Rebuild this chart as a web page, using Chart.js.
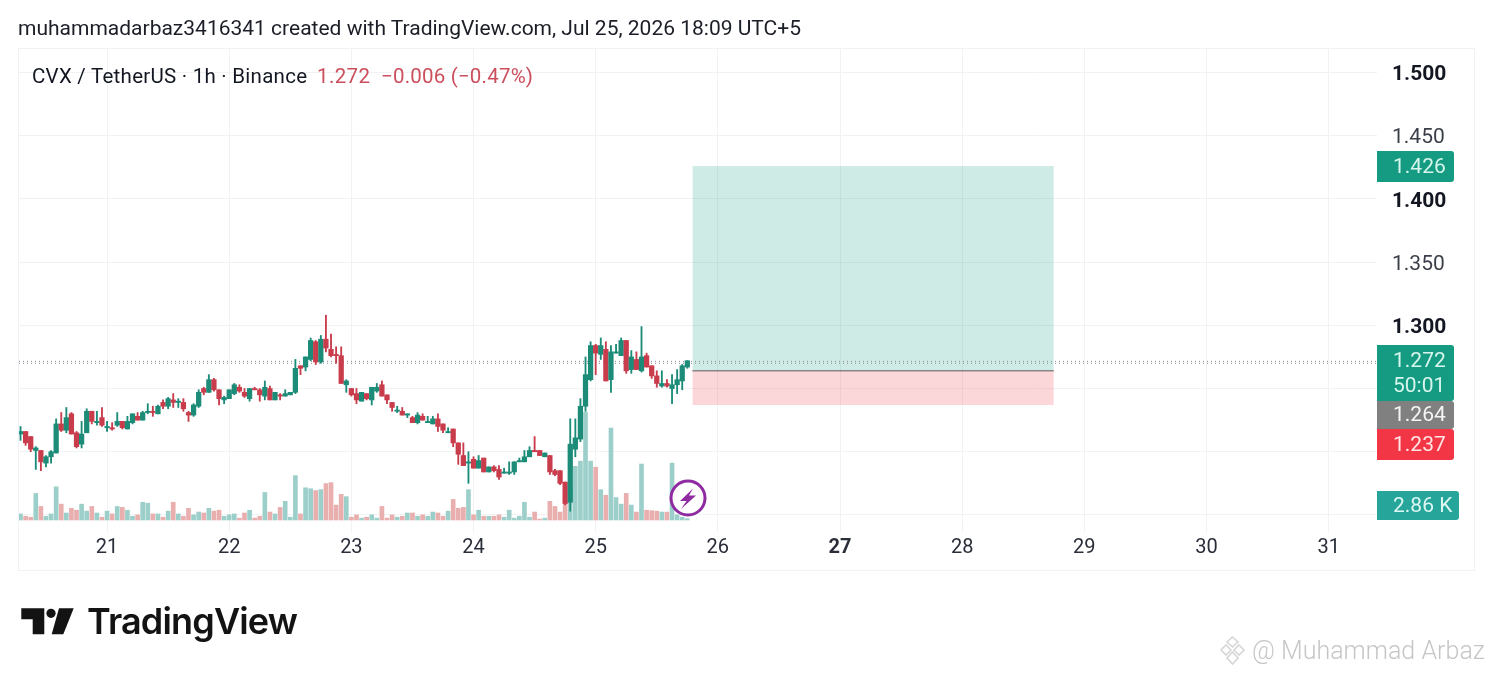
<!DOCTYPE html>
<html>
<head>
<meta charset="utf-8">
<title>CVX / TetherUS</title>
<script src="https://cdn.jsdelivr.net/npm/chart.js"></script>
<style>
  html, body { margin: 0; padding: 0; background: #fff; }
  #wrap { position: relative; width: 1492px; height: 675px; overflow: hidden; }
  #frame { position: absolute; left: 18px; top: 48px; width: 1455px; height: 521px; border: 1px solid #f0f2f5; }
  #chart, #overlay { position: absolute; left: 0; top: 0; }
</style>
</head>
<body>
<div id="wrap">
  <div id="frame"></div>
  <canvas id="chart" width="1492" height="675"></canvas>
  <svg id="overlay" width="1492" height="675" viewBox="0 0 1492 675" font-family="Roboto">
    <text x="18" y="35" font-size="21" fill="#1b1e26" textLength="783">muhammadarbaz3416341 created with TradingView.com, Jul 25, 2026 18:09 UTC+5</text>
    <text x="32" y="83" font-size="20.5" fill="#131722" textLength="275">CVX / TetherUS · 1h · Binance</text>
    <text x="317" y="83" font-size="20.5" fill="#cb4f5c" textLength="53">1.272</text>
    <text x="381" y="83" font-size="20.5" fill="#cb4f5c" textLength="152">−0.006 (−0.47%)</text>

    <circle cx="688" cy="498" r="17" fill="#fff" stroke="#8e2ba0" stroke-width="3"/>
    <polygon points="693,488.5 680,501 686.5,501 681,509 696,495.5 689,495.5" fill="#8e2ba0"/>

    <polygon points="21.3,608.3 44.3,608.3 44.3,634.3 32.7,634.3 32.7,619.3 21.3,619.3" fill="#131313"/>
    <circle cx="51" cy="613.3" r="4.6" fill="#131313"/>
    <polygon points="59,608.3 73.7,608.3 63.3,634.3 51.7,634.3" fill="#131313"/>
    <text x="87" y="634" font-family="Inter" font-size="36" font-weight="600" fill="#131313" textLength="211">TradingView</text>

    <g fill="none" stroke="#d6d6d6" stroke-width="1.6">
      <polygon points="1232.5,637 1238,642 1232.5,647 1227,642"/>
      <polygon points="1226,645 1231,650 1226,655 1221,650"/>
      <polygon points="1239,645 1244,650 1239,655 1234,650"/>
      <polygon points="1232.5,652 1238,658 1232.5,664 1227,658"/>
    </g>
    <text x="1252" y="659" font-size="25" font-weight="300" fill="#c6c6c6" textLength="233">@ Muhammad Arbaz</text>
  </svg>
</div>
<script>
// hours counted from Jul 21 00:00, one candle per hour
const firstHour = -17;

const opens = [
  1.214,1.216,1.212,1.201,1.201,1.191,1.196,1.199,1.222,1.217,1.230,1.215,1.206,1.215,1.232,1.223,1.227,
  1.219,1.219,1.221,1.224,1.218,1.223,1.228,1.225,1.231,1.232,1.230,1.239,1.236,1.241,1.239,1.239,1.231,1.229,1.236,1.250,1.247,1.257,1.249,1.241,
  1.242,1.246,1.251,1.247,1.242,1.250,1.249,1.244,1.250,1.241,1.245,1.244,1.245,1.247,1.268,1.267,1.273,1.287,1.271,1.289,1.281,1.277,1.276,1.253,
  1.250,1.246,1.240,1.246,1.241,1.248,1.253,1.245,1.239,1.232,1.232,1.229,1.227,1.223,1.228,1.223,1.222,1.226,1.222,1.215,1.218,1.207,1.197,1.191,
  1.194,1.187,1.195,1.184,1.188,1.186,1.183,1.183,1.184,1.192,1.192,1.196,1.201,1.201,1.196,1.197,1.185,1.185,1.176,1.160,1.202,1.210,1.236,1.257,
  1.284,1.277,1.281,1.257,1.278,1.276,1.288,1.265,1.273,1.264,1.276,1.268,1.260,1.252,1.254,1.250,1.253,1.256,1.267
];
const closes = [
  1.216,1.207,1.202,1.203,1.192,1.196,1.200,1.222,1.217,1.227,1.214,1.204,1.214,1.232,1.224,1.224,1.221,
  1.220,1.218,1.224,1.219,1.224,1.230,1.225,1.231,1.232,1.231,1.236,1.236,1.242,1.239,1.240,1.234,1.229,1.237,1.247,1.247,1.257,1.249,1.242,1.243,
  1.249,1.253,1.248,1.244,1.250,1.249,1.245,1.251,1.241,1.247,1.244,1.246,1.247,1.266,1.266,1.275,1.288,1.271,1.289,1.282,1.276,1.276,1.254,1.256,
  1.245,1.241,1.247,1.242,1.251,1.251,1.244,1.241,1.235,1.233,1.229,1.230,1.223,1.229,1.225,1.224,1.226,1.220,1.217,1.216,1.207,1.198,1.189,1.192,
  1.187,1.193,1.184,1.188,1.185,1.180,1.184,1.184,1.192,1.193,1.196,1.201,1.200,1.197,1.199,1.184,1.182,1.175,1.159,1.206,1.211,1.236,1.261,1.284,
  1.278,1.284,1.256,1.279,1.279,1.288,1.264,1.275,1.265,1.275,1.267,1.260,1.254,1.254,1.252,1.253,1.257,1.268,1.272
];
const highs = [
  1.220,1.216,1.212,1.204,1.201,1.197,1.201,1.226,1.231,1.235,1.231,1.216,1.224,1.234,1.232,1.232,1.235,
  1.224,1.223,1.231,1.224,1.228,1.230,1.231,1.232,1.238,1.236,1.237,1.241,1.243,1.246,1.242,1.242,1.232,1.238,1.249,1.251,1.261,1.258,1.249,1.244,
  1.249,1.254,1.253,1.250,1.250,1.251,1.250,1.256,1.252,1.247,1.246,1.249,1.247,1.273,1.268,1.275,1.290,1.288,1.292,1.308,1.293,1.283,1.283,1.257,
  1.250,1.250,1.247,1.246,1.251,1.254,1.256,1.245,1.239,1.236,1.235,1.230,1.228,1.231,1.230,1.228,1.228,1.230,1.222,1.219,1.218,1.207,1.207,1.200,
  1.196,1.197,1.195,1.188,1.189,1.189,1.187,1.192,1.192,1.195,1.201,1.204,1.212,1.201,1.199,1.197,1.186,1.185,1.176,1.226,1.226,1.242,1.275,1.287,
  1.285,1.290,1.287,1.284,1.285,1.290,1.288,1.280,1.279,1.299,1.278,1.268,1.264,1.264,1.257,1.261,1.265,1.269,1.272
];
const lows = [
  1.209,1.205,1.200,1.186,1.185,1.188,1.191,1.199,1.216,1.215,1.214,1.203,1.203,1.215,1.222,1.221,1.220,
  1.216,1.217,1.220,1.218,1.218,1.222,1.225,1.225,1.230,1.228,1.230,1.234,1.234,1.235,1.235,1.232,1.224,1.228,1.235,1.245,1.247,1.248,1.237,1.238,
  1.242,1.245,1.247,1.243,1.240,1.249,1.240,1.241,1.241,1.241,1.241,1.244,1.245,1.246,1.261,1.264,1.272,1.269,1.270,1.279,1.275,1.270,1.254,1.247,
  1.244,1.238,1.240,1.241,1.237,1.247,1.244,1.238,1.232,1.231,1.229,1.227,1.223,1.222,1.225,1.223,1.222,1.216,1.215,1.215,1.204,1.190,1.189,1.175,
  1.187,1.187,1.184,1.184,1.184,1.178,1.183,1.182,1.182,1.192,1.192,1.196,1.200,1.197,1.196,1.182,1.181,1.174,1.158,1.153,1.196,1.208,1.232,1.256,
  1.261,1.273,1.256,1.247,1.278,1.276,1.262,1.262,1.265,1.263,1.267,1.258,1.251,1.251,1.251,1.238,1.246,1.249,1.266
];
// volume in thousands
const volumes = [
  13,8,6,57,29,8,13,71,34,15,25,21,34,19,29,15,6,19,13,29,27,21,8,11,38,36,13,13,6,19,38,13,8,25,11,17,15,25,19,21,8,11,13,4,15,21,
  4,8,59,17,13,27,40,6,95,13,69,67,63,65,78,80,32,55,50,6,11,4,6,11,4,29,4,11,6,8,15,15,8,11,8,17,15,8,19,44,25,27,65,11,21,
  8,8,8,11,6,21,4,8,38,6,17,2,4,40,29,17,34,
  70,115,126,231,126,113,65,53,197,48,34,57,32,17,120,21,20,19,17,17,122,11,6,2.86
];

const dayLabels = ["21","22","23","24","25","26","27","28","29","30","31"];
const dayHours = [0,24,48,72,96,120,144,168,192,216,240];
const priceTicks = [1.5,1.45,1.4,1.35,1.3,1.25,1.2,1.15];
const priceTickLabels = ["1.500","1.450","1.400","1.350","1.300"];
const boldPriceLabels = ["1.500","1.400","1.300"];

// long position tool
const positionHours = [115, 186];
const targetPrice = 1.426;
const entryPrice = 1.264;
const stopPrice = 1.237;
const lastPriceLines = [1.2715, 1.27];

const GREEN = "#1c8c79";
const RED = "#c93c4c";
const VOL_GREEN = "#9dcfca";
const VOL_RED = "#e9aeae";

const hours = opens.map((_, i) => firstHour + i);
const isUp = i => closes[i] >= opens[i];
const isBoldPrice = ctx => !!ctx.tick && boldPriceLabels.includes(ctx.tick.value.toFixed(3));

// price pills on the axis, they are pushed apart so they do not sit on their exact price
const pillPlugin = {
  id: "pills",
  afterDraw(chart) {
    const ctx = chart.ctx;
    const left = chart.scales.y.left;
    const pill = (top, h, w, color, text, textColor, text2) => {
      ctx.fillStyle = color;
      ctx.beginPath();
      ctx.roundRect(left, top, w, h, [0, 3, 3, 0]);
      ctx.fill();
      ctx.fillStyle = textColor;
      ctx.font = "21px Roboto";
      ctx.textAlign = "left";
      ctx.textBaseline = "middle";
      ctx.fillText(text, left + 16, top + (text2 ? 17 : h / 2 + 1));
      if (text2) ctx.fillText(text2, left + 16, top + 42);
    };
    pill(151, 31, 77, "#149b82", "1.426", "#d6f5ec");
    pill(345, 56, 77, "#149b82", "1.272", "#d6f5ec", "50:01");
    pill(401, 28, 77, "#808080", "1.264", "#f4f4f4");
    pill(429, 31, 77, "#f23645", "1.237", "#ffe4e4");
    pill(491, 29, 82, "#26a69a", "2.86 K", "#dcf6f2");
  }
};

new Chart(document.getElementById("chart").getContext("2d"), {
  type: "bar",
  data: {
    datasets: [
      {
        type: "line", order: 9, pointRadius: 0, borderWidth: 0,
        data: positionHours.map(x => ({ x, y: targetPrice })),
        fill: { value: entryPrice }, backgroundColor: "rgba(8,153,129,0.2)"
      },
      {
        type: "line", order: 9, pointRadius: 0, borderWidth: 0,
        data: positionHours.map(x => ({ x, y: stopPrice })),
        fill: { value: entryPrice }, backgroundColor: "rgba(242,54,69,0.2)"
      },
      {
        type: "line", order: 4, pointRadius: 0, borderWidth: 1, borderColor: "#5a5a5a", fill: false,
        data: positionHours.map(x => ({ x, y: entryPrice }))
      },
      {
        order: 6, yAxisID: "yVol", grouped: false, barThickness: 4,
        data: hours.map((x, i) => ({ x, y: volumes[i] })),
        backgroundColor: hours.map((_, i) => isUp(i) ? VOL_GREEN : VOL_RED)
      },
      ...lastPriceLines.map(p => ({
        type: "line", order: 5, pointRadius: 0, borderWidth: 1, borderColor: "#8a8f96",
        borderDash: [1, 3], fill: false,
        data: [{ x: -17.3, y: p }, { x: 249.5, y: p }]
      })),
      {
        order: 3, grouped: false, barThickness: 1.2,
        data: hours.map((x, i) => ({ x, y: [lows[i], highs[i]] })),
        backgroundColor: hours.map((_, i) => isUp(i) ? GREEN : RED)
      },
      {
        order: 2, grouped: false, barThickness: 4.6, minBarLength: 1,
        data: hours.map((x, i) => ({ x, y: [opens[i], closes[i]] })),
        backgroundColor: hours.map((_, i) => isUp(i) ? GREEN : RED)
      }
    ]
  },
  options: {
    responsive: false,
    animation: false,
    devicePixelRatio: 1,
    layout: { padding: { left: 19, top: 48, right: 18, bottom: 105 } },
    plugins: { legend: { display: false }, tooltip: { enabled: false }, title: { display: false } },
    scales: {
      x: {
        type: "linear",
        offset: false,
        min: -17.3,
        max: 249.5,
        afterBuildTicks: s => { s.ticks = dayHours.map(value => ({ value })); },
        afterFit: s => { s.height = 38; },
        grid: { color: "#f1f2f4", drawTicks: false, offset: false },
        border: { display: false },
        ticks: {
          autoSkip: false,
          maxRotation: 0,
          padding: 4,
          color: "#2a2e39",
          callback: v => dayLabels[dayHours.indexOf(v)],
          font: ctx => ({
            family: "Roboto",
            size: 20,
            weight: ctx.tick && dayLabels[dayHours.indexOf(ctx.tick.value)] === "27" ? "bold" : "normal"
          })
        }
      },
      y: {
        position: "right",
        min: 1.1365,
        max: 1.5194,
        afterBuildTicks: s => { s.ticks = priceTicks.map(value => ({ value })); },
        afterFit: s => { s.width = 97; },
        grid: { color: "#f1f2f4", drawTicks: false },
        border: { display: false },
        ticks: {
          autoSkip: false,
          padding: 15,
          labelOffset: 2.5,
          color: ctx => isBoldPrice(ctx) ? "#131722" : "#3a3e48",
          callback: v => priceTickLabels.includes(v.toFixed(3)) ? v.toFixed(3) : "",
          font: ctx => ({
            family: "Roboto",
            size: 21,
            weight: isBoldPrice(ctx) ? "bold" : "normal"
          })
        }
      },
      yVol: {
        display: false,
        position: "left",
        min: -25.7,
        max: 1011
      }
    }
  },
  plugins: [pillPlugin]
});
</script>
</body>
</html>
